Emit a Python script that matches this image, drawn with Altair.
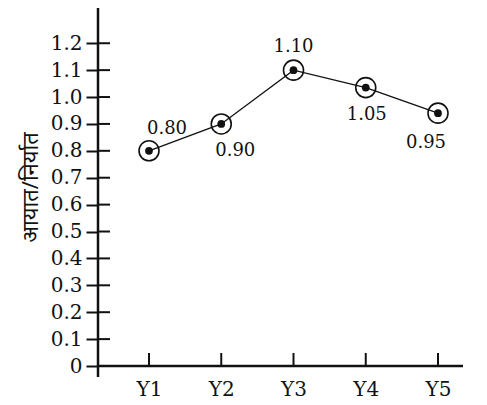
import altair as alt
import pandas as pd

# ---- data ----
years = ["Y1", "Y2", "Y3", "Y4", "Y5"]
ratio = [0.80, 0.90, 1.10, 1.035, 0.94]
point_labels = ["0.80", "0.90", "1.10", "1.05", "0.95"]
y_ticks = [0.0, 0.1, 0.2, 0.3, 0.4, 0.5, 0.6, 0.7, 0.8, 0.9, 1.0, 1.1, 1.2]
y_title = "आयात/निर्यात"

df = pd.DataFrame({"year": years, "ratio": ratio, "label": point_labels})
df["pos"] = range(1, len(years) + 1)
ticks_df = pd.DataFrame({"t": y_ticks})
one = pd.DataFrame({"a": [0]})

# ---- layout / style ----
W, H = 365, 358
YTOP = 1.331
SERIF = "DejaVu Serif"
INK = "#111111"
label_offsets = [(18, -22), (14, 27), (0, -23), (1, 27), (-12, 30)]

STEP = 72.25
xscale = alt.Scale(domain=[1 - 51 / STEP, len(years) + 25 / STEP], nice=False, zero=False)
yscale = alt.Scale(domain=[0, YTOP], nice=False, zero=True)

year_arr = "[" + ",".join("'%s'" % y for y in years) + "]"
xaxis = alt.Axis(
    values=list(range(1, len(years) + 1)),
    labelExpr=year_arr + "[datum.value - 1]",
    domain=False, ticks=False,
    labelPadding=13, labelFontSize=20, labelFont=SERIF, labelColor=INK,
    labelAngle=0, title=None, grid=False,
)
yaxis = alt.Axis(
    values=y_ticks,
    labelExpr="datum.value == 0 ? '0' : format(datum.value, '.1f')",
    tickSize=12, tickWidth=2, tickColor=INK, domain=False, grid=False,
    labelFont=SERIF, labelFontSize=20, labelColor=INK, labelPadding=4,
    title=y_title, titleFont="Noto Sans", titleFontSize=22,
    titleFontWeight="normal", titlePadding=8, titleColor=INK,
)

X = alt.X("pos:Q", scale=xscale, axis=xaxis)
Y = alt.Y("ratio:Q", scale=yscale, axis=yaxis)

base = alt.Chart(df)

line = base.mark_line(color=INK, strokeWidth=1.3).encode(x=X, y=Y)
outer = base.mark_point(shape="circle", size=400, filled=False,
                        stroke=INK, strokeWidth=1.6, opacity=1).encode(x=X, y=Y)
inner = base.mark_point(shape="circle", size=60, filled=True,
                        color=INK, opacity=1).encode(x=X, y=Y)

# inner halves of the crossing y ticks
ytick_in = alt.Chart(ticks_df).mark_rule(color=INK, strokeWidth=2).encode(
    y=alt.Y("t:Q", scale=yscale, axis=yaxis),
    x=alt.value(0), x2=alt.value(12),
)
# x ticks pointing upward
xtick = base.mark_rule(color=INK, strokeWidth=2).encode(
    x=X, y=alt.value(H - 13), y2=alt.value(H),
)
# axis lines
yline = alt.Chart(one).mark_rule(color=INK, strokeWidth=2.5).encode(
    x=alt.value(0), y=alt.value(0), y2=alt.value(H + 11),
)
xline = alt.Chart(one).mark_rule(color=INK, strokeWidth=2.5).encode(
    x=alt.value(0), x2=alt.value(W), y=alt.value(H),
)

texts = []
for yr, (dx, dy) in zip(years, label_offsets):
    texts.append(
        base.transform_filter(alt.datum.year == yr)
        .mark_text(dx=dx, dy=dy, font=SERIF, fontSize=18, color=INK)
        .encode(x=X, y=Y, text="label:N")
    )

chart = alt.layer(yline, xline, ytick_in, xtick, line, outer, inner, *texts).properties(
    width=W, height=H,
    autosize=alt.AutoSizeParams(type="none"),
    padding={"left": 90, "top": 0, "right": 14, "bottom": 39},
    background="white",
).configure_view(stroke=None)

chart.save("out.html", embed_options={"renderer": "svg", "actions": False})
